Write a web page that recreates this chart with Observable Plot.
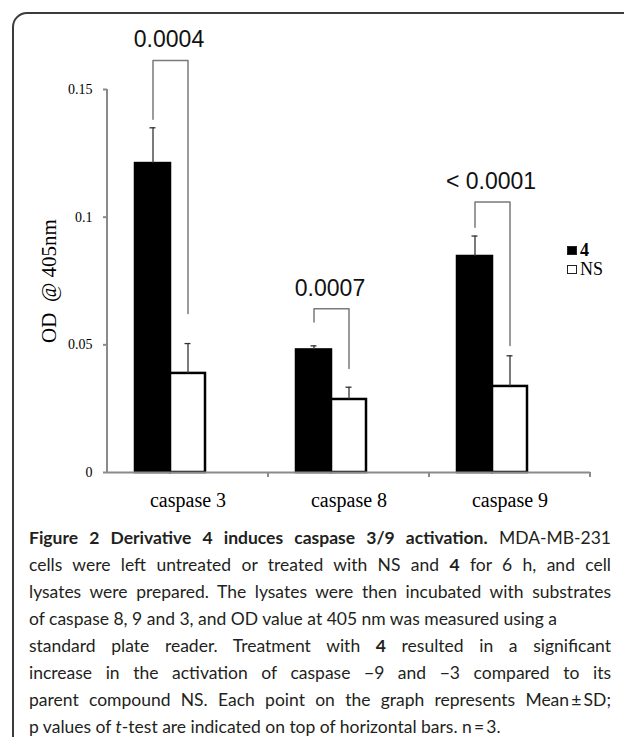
<!DOCTYPE html>
<html>
<head>
<meta charset="utf-8">
<script src="https://cdn.jsdelivr.net/npm/d3@7"></script>
<script src="https://cdn.jsdelivr.net/npm/@observablehq/plot@0.6"></script>
<style>
html, body { margin: 0; padding: 0; background: #fff; }
body { width: 624px; height: 737px; overflow: hidden; position: relative; }
#frame { position: absolute; left: 12px; top: 12px; width: 720px; height: 820px; border: 2px solid #3b3b3b; border-top-left-radius: 15px; box-sizing: border-box; }
#chart { position: absolute; left: 0; top: 0; }
#legend { position: absolute; left: 567px; top: 241px; font-family: "Liberation Serif", "Times New Roman", serif; font-size: 18px; line-height: 19px; color: #000; }
#legend .row { display: flex; align-items: center; height: 19px; }
#legend .sw { width: 10px; height: 9px; box-sizing: border-box; margin-right: 3px; }
#caption { position: absolute; left: 29px; top: 524px; width: 582px; font-family: Lato, "Open Sans", sans-serif; font-size: 17.5px; line-height: 27px; color: #231f20; }
#caption div { white-space: nowrap; }
#caption div.j { text-align: justify; text-align-last: justify; }
</style>
</head>
<body>
<div id="frame"></div>
<div id="chart"></div>
<div id="legend"></div>
<div id="caption"></div>
<script>
// ---- data ----
const categories = ["caspase 3", "caspase 8", "caspase 9"];
const series = ["4", "NS"];
const mean4 = [0.121, 0.048, 0.0846];
const meanNS = [0.0388, 0.0286, 0.0337];
const sd4 = [0.014, 0.0016, 0.008];
const sdNS = [0.0117, 0.0048, 0.012];
const pValues = ["0.0004", "0.0007", "< 0.0001"];
const bracketTop = [0.1614, 0.0641, 0.1059];
const bracketLeftEnd = [0.1383, 0.0589, 0.0961];
const bracketRightEnd = [0.0623, 0.0407, 0.0497];
const yTicks = [0, 0.05, 0.1, 0.15];
const yTickLabels = ["0", "0.05", "0.1", "0.15"];
const yTitle = "OD\u00a0\u00a0@\u00a0405nm";
const seriesColors = ["#000000", "#ffffff"];
const slots = [...series, "(empty)"]; // the original chart keeps an empty third slot per group

const captionLines = [
  {j: true, html: "<b>Figure 2 Derivative 4 induces caspase 3/9 activation.</b> MDA-MB-231"},
  {j: true, html: "cells were left untreated or treated with NS and <b>4</b> for 6 h, and cell"},
  {j: true, html: "lysates were prepared. The lysates were then incubated with substrates"},
  {j: false, html: "of caspase 8, 9 and 3, and OD value at 405 nm was measured using a"},
  {j: true, html: "standard plate reader. Treatment with <b>4</b> resulted in a significant"},
  {j: true, html: "increase in the activation of caspase \u22129 and \u22123 compared to its"},
  {j: true, html: "parent compound NS. Each point on the graph represents Mean\u2009\u00b1\u2009SD;"},
  {j: false, html: "p values of <i>t</i>-test are indicated on top of horizontal bars. n\u2009=\u20093."}
];

// ---- tables built from the arrays ----
const means = {"4": mean4, "NS": meanNS};
const sds = {"4": sd4, "NS": sdNS};
const rows = categories.flatMap((c, i) => series.map(s => ({category: c, series: s, mean: means[s][i], sd: sds[s][i]})));
const bracketPts = categories.flatMap((c, i) => [
  {category: c, slot: series[0], v: bracketLeftEnd[i]},
  {category: c, slot: series[0], v: bracketTop[i]},
  {category: c, slot: series[1], v: bracketTop[i]},
  {category: c, slot: series[1], v: bracketRightEnd[i]}
]);
const pRows = categories.map((c, i) => ({category: c, label: pValues[i], v: bracketTop[i]}));

const axisGray = "#8a8a8a";
const serif = '"Liberation Serif", "Times New Roman", serif';

const chart = Plot.plot({
  width: 624,
  height: 520,
  marginLeft: 107,
  marginRight: 34,
  marginTop: 89,
  marginBottom: 48,
  style: {fontFamily: serif, fontSize: "14px", color: "#000", background: "transparent", overflow: "visible"},
  fx: {domain: categories, padding: 0, label: null},
  x: {domain: slots, paddingInner: 0, paddingOuter: 0.74, axis: null},
  y: {domain: [yTicks[0], yTicks[yTicks.length - 1]]},
  color: {domain: series, range: seriesColors},
  marks: [
    Plot.barY(rows, {fx: "category", x: "series", y: "mean", fill: "series", stroke: "#000", strokeWidth: 2.5}),
    Plot.ruleX(rows, {fx: "category", x: "series", y1: "mean", y2: d => d.mean + d.sd, stroke: "#333", strokeWidth: 1.3}),
    Plot.tickY(rows, {fx: "category", x: "series", y: d => d.mean + d.sd, stroke: "#333", strokeWidth: 1.3, insetLeft: 14.5, insetRight: 14.5}),
    Plot.line(bracketPts, {fx: "category", x: "slot", y: "v", z: "category", stroke: "#7a7a7a", strokeWidth: 1.5}),
    Plot.text(pRows, {fx: "category", x: () => series[0], y: "v", text: "label", dx: 16, dy: -13, lineAnchor: "bottom",
      fontFamily: '"Liberation Sans", Arial, sans-serif', fontSize: 23, fill: "#111"}),
    Plot.ruleY([0], {stroke: axisGray, strokeWidth: 2}),
    Plot.axisY({ticks: yTicks, tickFormat: d => yTickLabels[yTicks.indexOf(d)], tickSize: 4, tickPadding: 11,
      stroke: axisGray, strokeWidth: 2, fill: "#000", fontSize: 14, label: null}),
    Plot.axisFx({anchor: "bottom", tickSize: 0, tickPadding: 20, fontSize: 20, fill: "#000", label: null}),
    Plot.text([yTitle], {frameAnchor: "left", textAnchor: "middle", rotate: -90, dx: -58, fontSize: 21, fill: "#000", facetAnchor: "left"})
  ]
});

// axis line on the left and category boundary ticks, placed with the plot's own scales
(function () {
  const svg = d3.select(chart.tagName.toLowerCase() === "svg" ? chart : chart.querySelector("svg"));
  const fxs = chart.scale("fx");
  const ys = chart.scale("y");
  const y0 = ys.apply(yTicks[0]);
  const yTop = ys.apply(yTicks[yTicks.length - 1]);
  const left = fxs.apply(categories[0]);
  const g = svg.append("g").attr("stroke", axisGray).attr("stroke-width", 2).attr("fill", "none");
  g.append("line").attr("x1", left).attr("x2", left).attr("y1", yTop).attr("y2", y0 + 1);
  categories.forEach(c => {
    const xr = fxs.apply(c) + fxs.bandwidth;
    g.append("line").attr("x1", xr).attr("x2", xr).attr("y1", y0).attr("y2", y0 + 5);
  });
})();

document.getElementById("chart").appendChild(chart);

// legend
const legend = d3.select("#legend");
series.forEach((s, i) => {
  const row = legend.append("div").attr("class", "row");
  row.append("div").attr("class", "sw")
    .style("background", seriesColors[i])
    .style("border", "1px solid #222");
  row.append("span").style("font-weight", s === "4" ? "bold" : "normal").text(s);
});

// caption
const cap = d3.select("#caption");
captionLines.forEach(l => cap.append("div").attr("class", l.j ? "j" : "").html(l.html));
</script>
</body>
</html>
